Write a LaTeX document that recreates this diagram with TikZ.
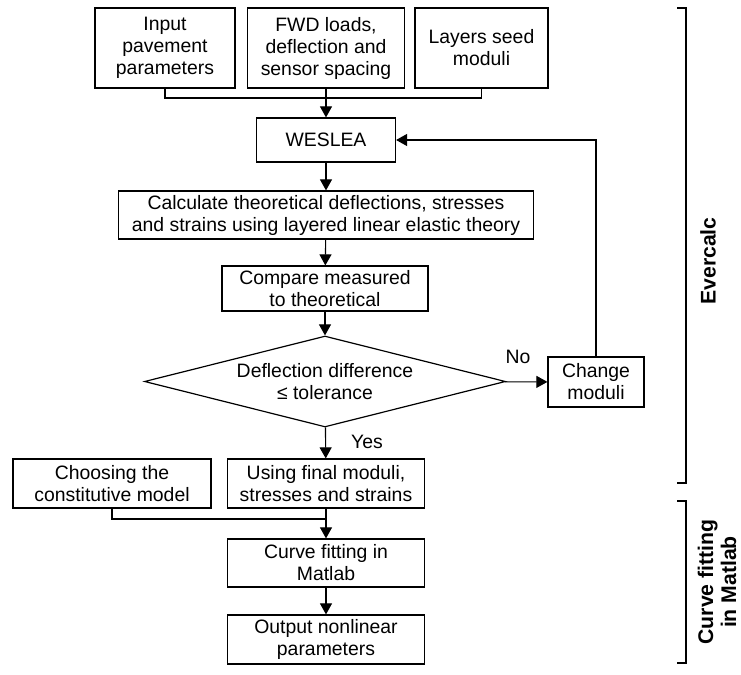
\documentclass[tikz,border=0pt]{standalone}
\usepackage{fontspec}
\setmainfont{Liberation Sans}
\usetikzlibrary{shapes.geometric,arrows.meta}
\begin{document}
\begin{tikzpicture}[x=0.5pt,y=-0.5pt]
	% Set styles
	\tikzset{flow box/.style={draw, line width=0.6pt, align=center, inner sep=1pt, font=\fontsize{9.7}{11}\selectfont},
		flow arrow/.style={line width=0.55pt, -{Triangle[length=5.5pt,width=6pt]}},
		flow line/.style={line width=0.55pt},
		side brace/.style={line width=1.1pt},
		side label/.style={rotate=90, align=center, font=\fontsize{10.6}{11.5}\selectfont\bfseries}}
	\useasboundingbox (0,0) rectangle (741,675);
	
	% Input data
	\node [flow box, minimum width=70pt, minimum height=40pt] (inp) at (165,48) {Input\\pavement\\parameters};
	\node [flow box, minimum width=78.5pt, minimum height=40pt] (fwd) at (326,48) {FWD loads,\\deflection and\\sensor spacing};
	\node [flow box, minimum width=66.5pt, minimum height=40pt] (seed) at (481.5,48) {Layers seed\\moduli};
	
	% Evercalc loop
	\node [flow box, minimum width=69.5pt, minimum height=22pt] (weslea) at (326,140) {WESLEA};
	\node [flow box, minimum width=207.5pt, minimum height=24pt] (calc) at (326,215) {Calculate theoretical deflections, stresses\\and strains using layered linear elastic theory};
	\node [flow box, minimum width=103pt, minimum height=22.5pt] (comp) at (325,288.5) {Compare measured\\to theoretical};
	\node [flow box, diamond, aspect=4, inner sep=0pt, minimum width=180.5pt, minimum height=45.5pt] (dec) at (325,381.5) {Deflection difference\\≤ tolerance};
	\node [flow box, minimum width=48pt, minimum height=25pt] (change) at (596,382) {Change\\moduli};
	\node [flow box, minimum width=98.5pt, minimum height=24.5pt] (final) at (326,483.5) {Using final moduli,\\stresses and strains};
	
	% Curve fitting
	\node [flow box, minimum width=99pt, minimum height=24.5pt] (choose) at (112,483.5) {Choosing the\\constitutive model};
	\node [flow box, minimum width=98.5pt, minimum height=24pt] (fit) at (326,563) {Curve fitting in\\Matlab};
	\node [flow box, minimum width=98.5pt, minimum height=24.5pt] (out) at (326,639.5) {Output nonlinear\\parameters};
	
	% Connectors
	\coordinate (bus) at (326,98);
	\coordinate (join) at (326,519);
	\draw [flow line] (inp.south) |- (bus) -| (seed.south);
	\draw [flow arrow] (fwd) -- (weslea);
	\draw [flow arrow] (weslea) -- (calc);
	\draw [flow arrow] (calc) -- (comp);
	\draw [flow arrow] (comp) -- (dec);
	\draw [flow arrow] (dec) -- (final);
	\draw [flow arrow] (dec) -- (change);
	\draw [flow arrow] (change.north) |- (weslea.east);
	\draw [flow line] (choose.south) |- (join);
	\draw [flow arrow] (final) -- (fit);
	\draw [flow arrow] (fit) -- (out);
	
	% Branch labels
	\node [font=\fontsize{9.7}{11}\selectfont] (no) at (518,357) {No};
	\node [font=\fontsize{9.7}{11}\selectfont] (yes) at (367,442) {Yes};
	
	% Side brackets
	\draw [side brace] (677,8) -- (686,8) -- (686,483) -- (677,483);
	\draw [side brace] (677,501) -- (686,501) -- (686,663) -- (677,663);
	\node [side label] (evercalc) at (708,261) {Evercalc};
	\node [side label] (matlab) at (717,582) {Curve fitting\\in Matlab};
	
\end{tikzpicture}
\end{document}
